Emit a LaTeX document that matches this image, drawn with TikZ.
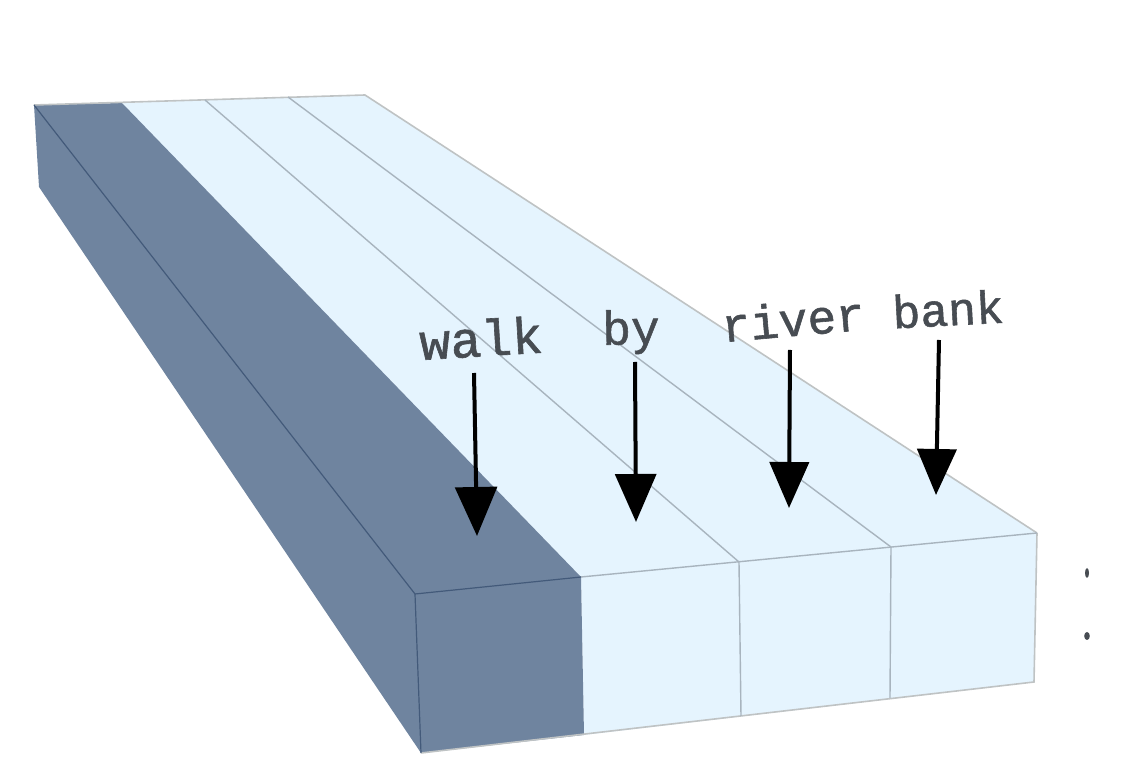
\documentclass[tikz,border=0pt]{standalone}
\usepackage{fontspec}
\setmonofont{Liberation Mono}[BoldFont={Liberation Mono},BoldFeatures={FakeBold=1.2}]
\usepackage{xcolor}
\definecolor{slab}{HTML}{6F849F}
\definecolor{water}{HTML}{E5F4FE}
\definecolor{slabedge}{HTML}{435A7A}
\definecolor{wateredge}{HTML}{A8B4BE}
\definecolor{rimedge}{HTML}{BFC3C4}
\definecolor{word}{HTML}{474C52}
\usetikzlibrary{arrows.meta,positioning,calc}

\begin{document}
\begin{tikzpicture}[
  x=1cm, y=1cm,
  tokenlabel/.style={text=word, inner sep=0pt},
  pointer/.style={-{Triangle[length=#1, width=0.85*#1]}, line width=0.04cm, color=black},
  pointer/.default=0.48cm,
  slabline/.style={color=slabedge, line width=0.012cm},
  waterline/.style={color=wateredge, line width=0.014cm},
  rimline/.style={color=rimedge, line width=0.016cm}
]
\useasboundingbox (0,0) rectangle (11.28,7.82);

% Back edge, left to right
\coordinate (B0) at (0.34,6.77);
\coordinate (B1) at (1.22,6.79);
\coordinate (B2) at (2.05,6.82);
\coordinate (B3) at (2.88,6.85);
\coordinate (B4) at (3.65,6.87);
\coordinate (Bdown) at (0.39,5.95);

% Front top edge
\coordinate (T0) at (4.15,1.88);
\coordinate (T1) at (5.81,2.05);
\coordinate (T2) at (7.39,2.20);
\coordinate (T3) at (8.91,2.35);
\coordinate (T4) at (10.37,2.49);

% Front bottom edge
\coordinate (F0) at (4.21,0.29);
\coordinate (F1) at (5.84,0.47);
\coordinate (F2) at (7.41,0.66);
\coordinate (F3) at (8.90,0.84);
\coordinate (F4) at (10.34,1.00);

% Light faces
\fill[water] (B1) -- (B4) -- (T4) -- (F4) -- (F1) -- (T1) -- cycle;

% Dark faces
\fill[slab] (B0) -- (B1) -- (T1) -- (F1) -- (F0) -- (Bdown) -- cycle;

% Edges on the light part
\draw[rimline] (B0) -- (B4) -- (T4);
\draw[rimline] (F0) -- (F4) -- (T4);
\draw[waterline] (T1) -- (T4);
\draw[waterline] (B2) -- (T2) -- (F2);
\draw[waterline] (B3) -- (T3) -- (F3);

% Edges on the dark part
\draw[slabline] (B0) -- (T0) -- (F0);
\draw[slabline] (T0) -- (T1);

% Words
\node[tokenlabel, rotate=3.5, font=\ttfamily\bfseries\fontsize{14.6}{16}\selectfont] (walk) at (4.81,4.44) {walk};
\node[tokenlabel, rotate=1, font=\ttfamily\bfseries\fontsize{13.6}{16}\selectfont] (by) at (6.31,4.50) {by};
\node[tokenlabel, rotate=5, font=\ttfamily\bfseries\fontsize{13.6}{16}\selectfont] (river) at (7.93,4.63) {river};
\node[tokenlabel, rotate=3, font=\ttfamily\bfseries\fontsize{13.2}{16}\selectfont] (bank) at (9.48,4.73) {bank};

% Arrow ends
\coordinate (walktail) at (4.74,4.09);
\coordinate (walktip) at (4.77,2.46);
\coordinate (bytail) at (6.35,4.20);
\coordinate (bytip) at (6.36,2.60);
\coordinate (rivertail) at (7.90,4.32);
\coordinate (rivertip) at (7.89,2.74);
\coordinate (banktail) at (9.39,4.42);
\coordinate (banktip) at (9.36,2.87);

\draw[pointer=0.49cm] (walktail) -- (walktip);
\draw[pointer=0.48cm] (bytail) -- (bytip);
\draw[pointer=0.46cm] (rivertail) -- (rivertip);
\draw[pointer=0.46cm] (banktail) -- (banktip);

% Marks at the right
\fill[word] (10.87,2.09) ellipse (0.02 and 0.05);
\fill[word] (10.87,1.46) ellipse (0.028 and 0.04);

\end{tikzpicture}
\end{document}
